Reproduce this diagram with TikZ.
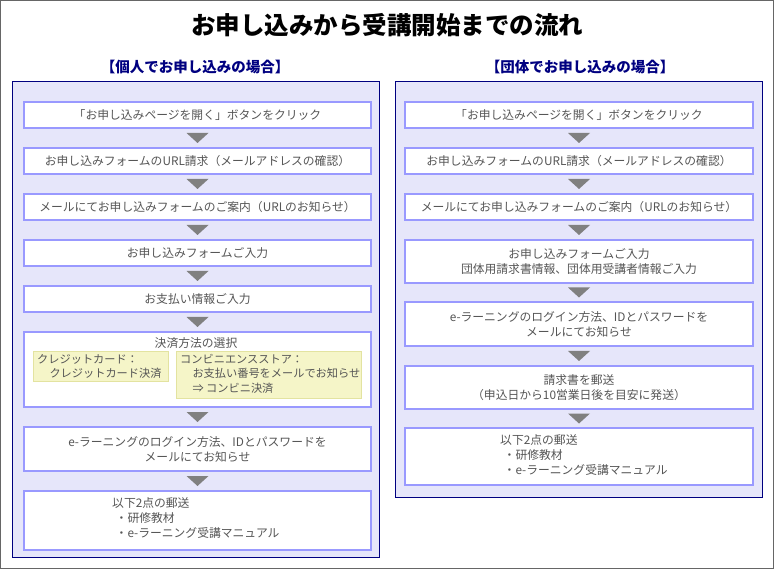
\documentclass[tikz,border=0pt]{standalone}
\usepackage{fontspec}
\setmainfont{Noto Sans CJK JP}
\usetikzlibrary{calc}
\definecolor{lav}{HTML}{E6E6FA}
\definecolor{navy}{HTML}{000080}
\definecolor{bbl}{HTML}{9999FF}
\definecolor{txt}{HTML}{555555}
\definecolor{tri}{HTML}{808080}
\definecolor{yel}{HTML}{F5F5C8}
\definecolor{yelb}{HTML}{E3E3A0}
\tikzset{
 panel/.style={draw=navy,fill=lav,line width=1pt,anchor=north west,inner sep=0},
 stepbox/.style={draw=bbl,fill=white,line width=2pt,anchor=north west,inner sep=0,font=\fontsize{11.8}{15}\selectfont,text=txt,align=center},
 subbox/.style={draw=yelb,fill=yel,line width=1pt,anchor=north west,inner sep=0},
 tx/.style={font=\fontsize{11.8}{15}\selectfont,text=txt,align=left,inner sep=0},
 stx/.style={font=\fontsize{11.2}{14.5}\selectfont,text=txt,align=left,inner sep=0},
 hdr/.style={font=\fontsize{14.5}{17}\bfseries\selectfont,text=navy},
}
\newcommand{\tridown}[2]{\fill[tri] ($(#1.south)!0.5!(#2.north)+(-11,-5)$) -- ++(22,0) -- ++(-11,10) -- cycle;}
\begin{document}
\begin{tikzpicture}[x=1pt,y=-1pt]
\useasboundingbox (0,0) rectangle (774,569);
\draw[gray!80!black,line width=1pt] (0.5,0.5) rectangle (773.5,568.5);
\node[font=\fontsize{24.5}{28}\bfseries\selectfont] (title) at (387,25) {お申し込みから受講開始までの流れ};
\node[hdr] (hl) at (195,67) {【個人でお申し込みの場合】};
\node[hdr] (hr) at (580,67) {【団体でお申し込みの場合】};
\node[panel,minimum width=367,minimum height=476] (pl) at (12,81) {};
\node[panel,minimum width=367,minimum height=416] (pr) at (395,81) {};
% left
\node[stepbox,minimum width=347,minimum height=26] (l1) at (23,101) {「お申し込みページを開く」ボタンをクリック};
\node[stepbox,minimum width=347,minimum height=26] (l2) at (23,147) {お申し込みフォームのURL請求（メールアドレスの確認）};
\node[stepbox,minimum width=347,minimum height=26] (l3) at (23,193) {メールにてお申し込みフォームのご案内（URLのお知らせ）};
\node[stepbox,minimum width=347,minimum height=26] (l4) at (23,239) {お申し込みフォームご入力};
\node[stepbox,minimum width=347,minimum height=26] (l5) at (23,285) {お支払い情報ご入力};
\node[stepbox,minimum width=347,minimum height=75] (l6) at (23,331) {};
\node[tx] (l6t) at (196,343) {決済方法の選択};
\node[subbox,minimum width=135,minimum height=30] (y1) at (33,351) {};
\node[stx,anchor=north west] (y1t) at (37,354) {クレジットカード：\\\hspace{1.1em}クレジットカード決済};
\node[subbox,minimum width=185,minimum height=47] (y2) at (176,351) {};
\node[stx,anchor=north west] (y2t) at (180,354) {コンビニエンスストア：\\\hspace{1.1em}お支払い番号をメールでお知らせ\\\hspace{1.1em}⇒ コンビニ決済};
\node[stepbox,minimum width=347,minimum height=44] (l7) at (23,426) {e-ラーニングのログイン方法、IDとパスワードを\\メールにてお知らせ};
\node[stepbox,minimum width=347,minimum height=59] (l8) at (23,490) {};
\node[tx,anchor=west] (l8t) at (112,518) {以下2点の郵送\\\hspace{0.3em}・研修教材\\\hspace{0.3em}・e-ラーニング受講マニュアル};
% right
\node[stepbox,minimum width=348,minimum height=26] (r1) at (404,101) {「お申し込みページを開く」ボタンをクリック};
\node[stepbox,minimum width=348,minimum height=26] (r2) at (404,147) {お申し込みフォームのURL請求（メールアドレスの確認）};
\node[stepbox,minimum width=348,minimum height=26] (r3) at (404,193) {メールにてお申し込みフォームのご案内（URLのお知らせ）};
\node[stepbox,minimum width=348,minimum height=43] (r4) at (404,239) {お申し込みフォームご入力\\団体用請求書情報、団体用受講者情報ご入力};
\node[stepbox,minimum width=348,minimum height=44] (r5) at (404,301) {e-ラーニングのログイン方法、IDとパスワードを\\メールにてお知らせ};
\node[stepbox,minimum width=348,minimum height=43] (r6) at (404,365) {請求書を郵送\\（申込日から10営業日後を目安に発送）};
\node[stepbox,minimum width=348,minimum height=57] (r7) at (404,427) {};
\node[tx,anchor=west] (r7t) at (500,455) {以下2点の郵送\\\hspace{0.3em}・研修教材\\\hspace{0.3em}・e-ラーニング受講マニュアル};
\tridown{l1}{l2}\tridown{l2}{l3}\tridown{l3}{l4}\tridown{l4}{l5}\tridown{l5}{l6}\tridown{l6}{l7}\tridown{l7}{l8}
\tridown{r1}{r2}\tridown{r2}{r3}\tridown{r3}{r4}\tridown{r4}{r5}\tridown{r5}{r6}\tridown{r6}{r7}
\end{tikzpicture}
\end{document}
